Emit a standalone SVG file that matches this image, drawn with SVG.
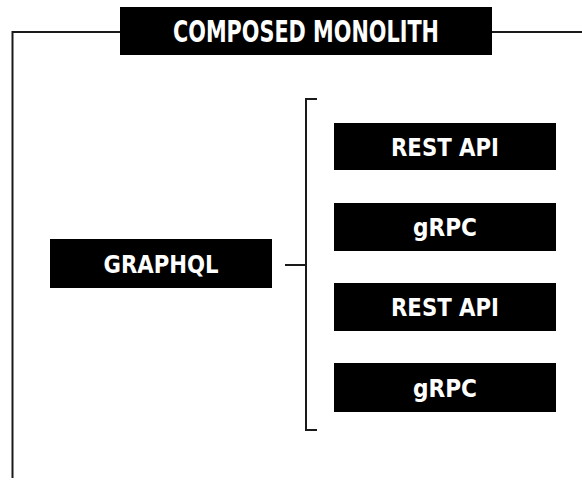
<svg xmlns="http://www.w3.org/2000/svg" width="582" height="480" viewBox="0 0 582 480">
  <style>
    .box { fill: #000; }
    .label { fill: #fff; font-family: "DejaVu Sans Condensed", "DejaVu Sans", "Liberation Sans", sans-serif; font-weight: bold; font-stretch: condensed; text-anchor: middle; }
    .line { fill: none; stroke: #1a1a1a; stroke-width: 2; }
  </style>
  <rect width="582" height="480" fill="#fff"/>

  <!-- connectors: outer frame, branch stub and bracket -->
  <g id="connectors">
    <path class="line" d="M120 32 H12.5 V478"/>
    <path class="line" d="M492 32 H582"/>
    <path class="line" d="M285 265 H306"/>
    <path class="line" d="M317 99 H306 V430 H317"/>
  </g>

  <g id="composed-monolith">
    <rect class="box" x="120" y="7" width="372" height="48"/>
    <text class="label" x="306" y="42" font-size="30" textLength="266" lengthAdjust="spacingAndGlyphs">COMPOSED MONOLITH</text>
  </g>

  <g id="graphql">
    <rect class="box" x="50" y="239" width="222" height="49"/>
    <text class="label" x="161" y="272.5" font-size="25" textLength="115" lengthAdjust="spacingAndGlyphs">GRAPHQL</text>
  </g>

  <g id="rest-api-1">
    <rect class="box" x="334" y="123" width="222" height="47"/>
    <text class="label" x="445" y="155.5" font-size="25" textLength="108" lengthAdjust="spacingAndGlyphs">REST API</text>
  </g>

  <g id="grpc-1">
    <rect class="box" x="334" y="203" width="222" height="48"/>
    <text class="label" x="445" y="236" font-size="25" textLength="64" lengthAdjust="spacingAndGlyphs">gRPC</text>
  </g>

  <g id="rest-api-2">
    <rect class="box" x="334" y="283" width="222" height="48"/>
    <text class="label" x="445" y="316" font-size="25" textLength="108" lengthAdjust="spacingAndGlyphs">REST API</text>
  </g>

  <g id="grpc-2">
    <rect class="box" x="334" y="363" width="222" height="49"/>
    <text class="label" x="445" y="396.5" font-size="25" textLength="64" lengthAdjust="spacingAndGlyphs">gRPC</text>
  </g>
</svg>
